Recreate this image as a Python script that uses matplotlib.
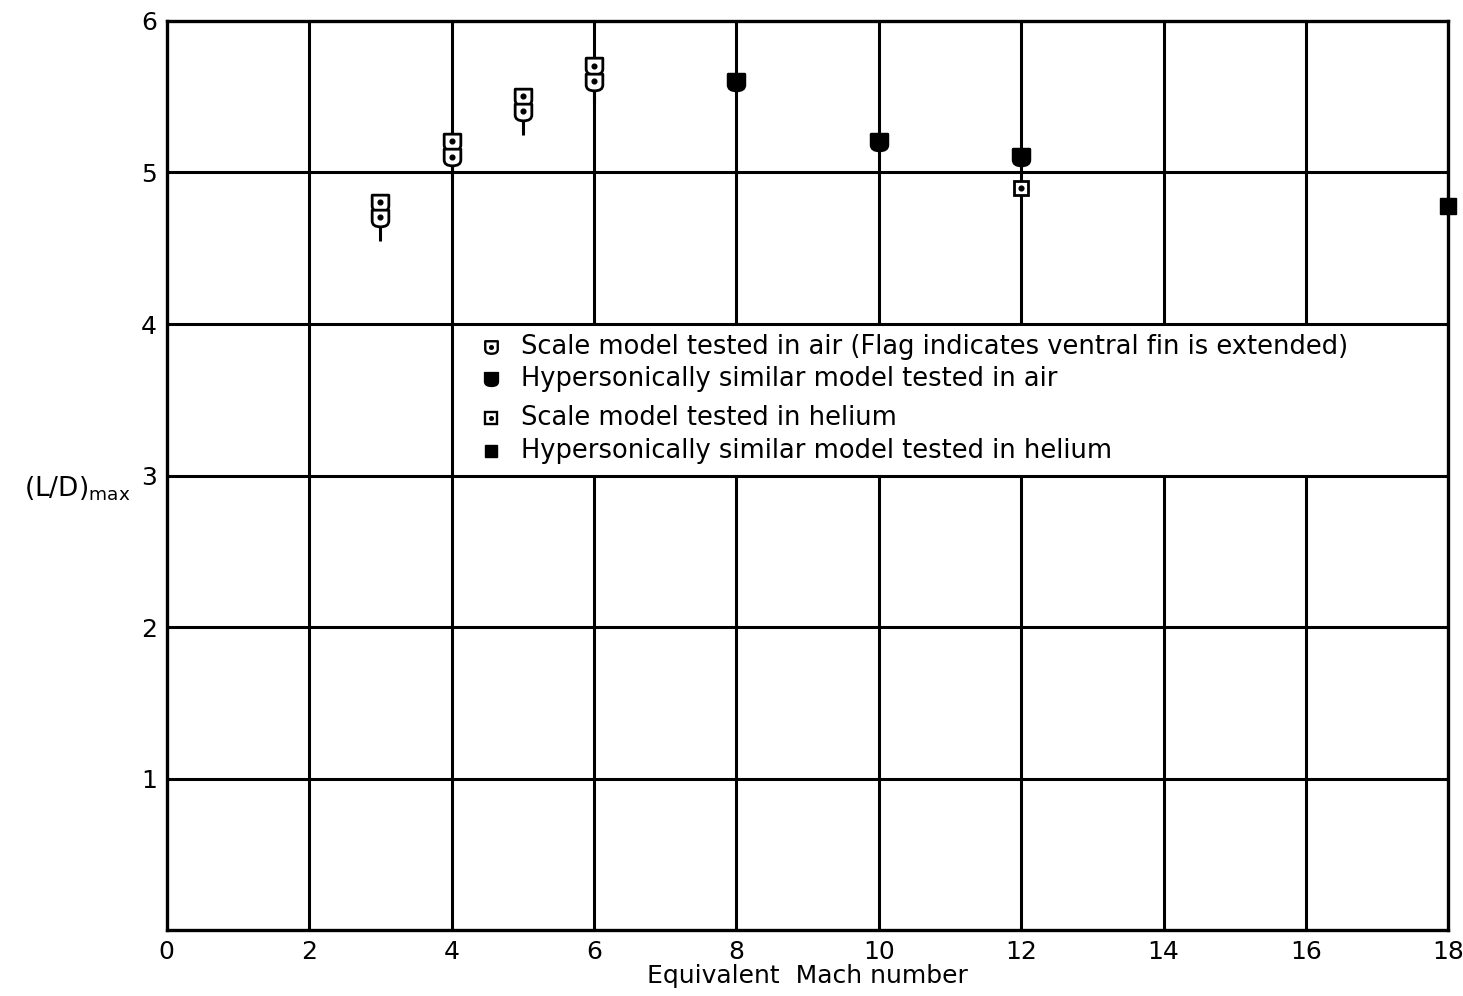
import matplotlib
matplotlib.use("Agg")
import matplotlib.pyplot as plt
from matplotlib.path import Path
from matplotlib.patches import Rectangle

# scale model in air, pairs of runs (lower point carries the fin flag)
air_scale_mach = [3, 3, 4, 4, 5, 5, 6, 6]
air_scale_ld = [4.8, 4.7, 5.2, 5.1, 5.5, 5.4, 5.7, 5.6]
flag_mach = [3, 4, 5, 6]
flag_ld = [4.7, 5.1, 5.4, 5.6]

# hypersonically similar model in air
air_sim_mach = [8, 10, 12]
air_sim_ld = [5.6, 5.2, 5.1]

# scale model in helium
he_scale_mach = [12]
he_scale_ld = [4.9]

# hypersonically similar model in helium
he_sim_mach = [18]
he_sim_ld = [4.78]

legend_labels = [
    "Scale model tested in air (Flag indicates ventral fin is extended)",
    "Hypersonically similar model tested in air",
    "Scale model tested in helium",
    "Hypersonically similar model tested in helium",
]

# shield-shaped symbol: flat top, rounded bottom
shield = Path(
    [(-1, 1), (1, 1), (1, -0.3), (1, -1), (0, -1),
     (-1, -1), (-1, -0.3), (-1, 1), (-1, 1)],
    [Path.MOVETO, Path.LINETO, Path.LINETO, Path.CURVE3, Path.CURVE3,
     Path.CURVE3, Path.CURVE3, Path.LINETO, Path.CLOSEPOLY],
)

plt.rcParams["font.family"] = "DejaVu Sans"
fig = plt.figure(figsize=(14.63, 9.96), dpi=100)
ax = fig.add_axes([0.114, 0.066, 0.876, 0.913])

ax.set_xlim(0, 18)
ax.set_ylim(0, 6)
ax.set_xticks(range(0, 19, 2))
ax.set_yticks(range(1, 7))
ax.tick_params(length=0, labelsize=18, pad=7)
for s in ax.spines.values():
    s.set_linewidth(2.4)
    s.set_zorder(6)

# grid: verticals under the key's blank area, horizontals over it
for gx in range(2, 18, 2):
    ax.axvline(gx, color="black", linewidth=2.2, zorder=1)
for gy in range(1, 6):
    ax.axhline(gy, color="black", linewidth=2.2, zorder=2)
ax.add_patch(Rectangle((4.2, 3.0), 13.8, 1.0, facecolor="white",
                       edgecolor="none", zorder=1.5))

ms = 12
mew = 2.0
kw = dict(linestyle="none", clip_on=False, zorder=4)

for x, y in zip(flag_mach, flag_ld):
    ax.plot([x, x], [y, y - 0.15], color="black", linewidth=2.2, zorder=3,
            solid_capstyle="butt")

ax.plot(air_scale_mach, air_scale_ld, marker=shield, markersize=ms,
        markerfacecolor="white", markeredgecolor="black", markeredgewidth=mew, **kw)
ax.plot(air_scale_mach, [v + 0.005 for v in air_scale_ld], marker="o", markersize=3.4,
        color="black", linestyle="none", zorder=5)
ax.plot(air_sim_mach, air_sim_ld, marker=shield, markersize=ms,
        color="black", markeredgewidth=mew, **kw)
ax.plot(he_scale_mach, he_scale_ld, marker="s", markersize=10.5,
        markerfacecolor="white", markeredgecolor="black", markeredgewidth=mew, **kw)
ax.plot(he_scale_mach, he_scale_ld, marker="o", markersize=3.4,
        color="black", linestyle="none", zorder=5)
ax.plot(he_sim_mach, he_sim_ld, marker="s", markersize=11,
        color="black", **kw)

# key
key_y = [3.85, 3.64, 3.38, 3.16]
kx = 4.55
ax.plot(kx, key_y[0], marker=shield, markersize=9, markerfacecolor="white",
        markeredgecolor="black", markeredgewidth=1.7, zorder=4)
ax.plot(kx, key_y[0], marker="o", markersize=2.6, color="black", zorder=5)
ax.plot(kx, key_y[1], marker=shield, markersize=10, color="black", zorder=4)
ax.plot(kx, key_y[2], marker="s", markersize=8.5, markerfacecolor="white",
        markeredgecolor="black", markeredgewidth=1.7, zorder=4)
ax.plot(kx, key_y[2], marker="o", markersize=2.6, color="black", zorder=5)
ax.plot(kx, key_y[3], marker="s", markersize=9, color="black", zorder=4)
for y, lab in zip(key_y, legend_labels):
    ax.text(4.97, y, lab, fontsize=18.5, va="center", ha="left", zorder=5)

ax.set_xlabel("Equivalent  Mach number", fontsize=18, labelpad=0)
ax.set_ylabel(r"(L/D)$_{\rm max}$", fontsize=19, rotation=0, va="center")
ax.yaxis.set_label_coords(-0.07, 0.485)

fig.savefig("out.png", dpi=100, facecolor="white")
